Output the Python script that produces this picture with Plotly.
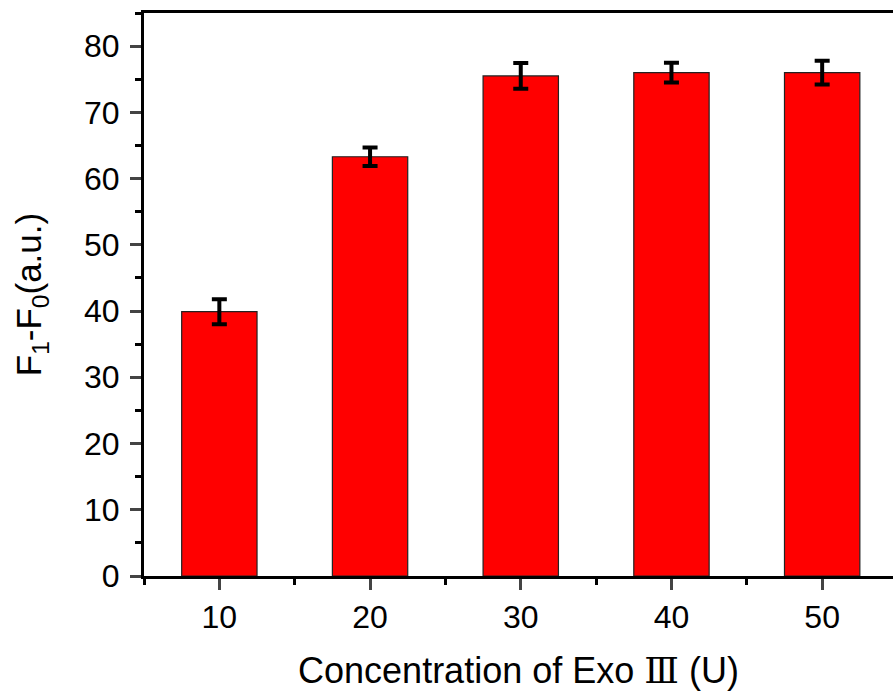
import plotly.graph_objects as go

concentrations = [10, 20, 30, 40, 50]
signal = [39.9, 63.3, 75.5, 76.0, 76.0]
errors = [1.9, 1.4, 1.95, 1.5, 1.8]

fig = go.Figure()
fig.add_trace(go.Bar(
    x=concentrations, y=signal, width=5,
    marker=dict(color="#ff0000", line=dict(color="#222222", width=1.2)),
    error_y=dict(type="data", array=errors, visible=True, color="black", thickness=4, width=7.5),
))

font = "Liberation Sans, Arial, sans-serif"
fig.update_layout(
    width=893, height=691,
    margin=dict(l=144, r=0, t=13, b=115),
    plot_bgcolor="white", paper_bgcolor="white",
    showlegend=False,
    font=dict(family=font, color="black"),
    xaxis=dict(
        range=[5, 54.7], tickvals=concentrations, ticks="outside", ticklen=11, tickwidth=3,
        minor=dict(dtick=5, tick0=5, ticks="outside", ticklen=6, tickwidth=3, tickcolor="black"),
        showline=True, linewidth=3, linecolor="black", mirror=True,
        showgrid=False, zeroline=False,
        tickfont=dict(size=32), ticklabelstandoff=0,
        title=dict(text="Concentration of Exo <span style=\"font-family:'DejaVu Serif'\">\u2162</span> (U)",
                   font=dict(size=36), standoff=24),
    ),
    yaxis=dict(
        range=[0, 85], dtick=10, tick0=0, ticks="outside", ticklen=11, tickwidth=3,
        minor=dict(dtick=5, ticks="outside", ticklen=6, tickwidth=3, tickcolor="black"),
        showline=True, linewidth=3, linecolor="black",
        showgrid=False, zeroline=False,
        tickfont=dict(size=32), ticklabelstandoff=4,
        title=dict(text="F<sub>1</sub>-F<sub>0</sub>(a.u.)", font=dict(size=35), standoff=32),
    ),
)

fig.write_html("out.html")
